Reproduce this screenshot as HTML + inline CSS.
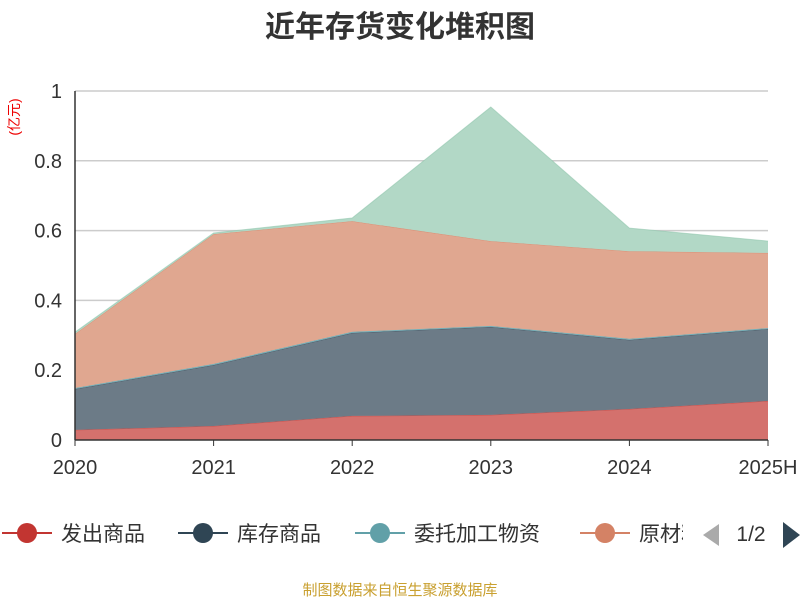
<!DOCTYPE html>
<html><head><meta charset="utf-8"><style>
body{margin:0;background:#fff;}
svg{display:block;font-family:"Liberation Sans","Noto Sans CJK SC",sans-serif;}
</style></head><body>
<svg id="chart" width="800" height="600" viewBox="0 0 800 600">
<text x="400" y="37" text-anchor="middle" font-size="30" font-weight="bold" fill="#333">近年存货变化堆积图</text>
<text transform="translate(19,117) rotate(-90)" text-anchor="middle" font-size="14" fill="#e00">(亿元)</text>
<g id="grid"></g><g id="areas"></g><g id="axes"></g>
<g id="legend"></g>
<text x="400" y="595" text-anchor="middle" font-size="15" fill="#c9a030">制图数据来自恒生聚源数据库</text>
</svg>
<script>
const categories=["2020","2021","2022","2023","2024","2025H"];
const yTicks=[0,0.2,0.4,0.6,0.8,1];
const yTickLabels=["0","0.2","0.4","0.6","0.8","1"];
const seriesNames=["发出商品","库存商品","委托加工物资","原材料","在产品"];
const s1=[0.029,0.040,0.069,0.072,0.089,0.112];
const s2=[0.117,0.175,0.238,0.252,0.198,0.206];
const s3=[0.003,0.003,0.003,0.003,0.003,0.003];
const s4=[0.155,0.372,0.317,0.243,0.251,0.215];
const s5=[0.005,0.003,0.009,0.384,0.066,0.034];
const series=[s1,s2,s3,s4,s5];
const fills=["#d4716d","#6c7b87","#7fb5bd","#e0a790","#b2d8c6"];
const strokes=["#c23531","#2f4554","#61a0a8","#d48265","#91c7ae"];
const X0=75,X1=768,Y0=440,Y1=91;
const x=i=>X0+i*(X1-X0)/(categories.length-1);
const y=v=>Y0-v*(Y0-Y1);
const NS="http://www.w3.org/2000/svg";
function mk(t,a,p){const e=document.createElementNS(NS,t);for(const k in a)e.setAttribute(k,a[k]);p.appendChild(e);return e;}
const grid=document.getElementById('grid'),areas=document.getElementById('areas'),axes=document.getElementById('axes');
yTicks.forEach((v,i)=>{
 if(v>0){const g=mk('line',{x1:X0,x2:X1,y1:y(v),y2:y(v),stroke:'#ccc','stroke-width':1.5},grid);
 
 }
 const t=mk('text',{x:62,y:y(v)+7,'text-anchor':'end','font-size':20,fill:'#333'},axes);t.textContent=yTickLabels[i];
 
 
});
let base=categories.map(()=>0);
series.forEach((s,si)=>{
 const top=s.map((v,i)=>base[i]+v);
 let d=top.map((v,i)=>(i?'L':'M')+x(i)+','+y(v)).join('');
 for(let i=categories.length-1;i>=0;i--)d+='L'+x(i)+','+y(base[i]);
 const a=mk('path',{d:d+'Z',fill:fills[si]},areas);
 
 
 const l=mk('path',{d:top.map((v,i)=>(i?'L':'M')+x(i)+','+y(v)).join(''),fill:'none',stroke:strokes[si],'stroke-width':1,'stroke-opacity':0.6},areas);
 
 
 base=top;
});
const ya=mk('line',{x1:X0,x2:X0,y1:Y1,y2:Y0,stroke:'#333','stroke-width':1.5},axes);


const xa=mk('line',{x1:X0,x2:X1,y1:Y0,y2:Y0,stroke:'#333','stroke-width':1.5},axes);


categories.forEach((c,i)=>{
 const tk=mk('line',{x1:x(i),x2:x(i),y1:Y0,y2:Y0+6,stroke:'#333'},axes);
 
 
 const t=mk('text',{x:x(i),y:474,'text-anchor':'middle','font-size':20,fill:'#333'},axes);t.textContent=c;
 
 
});
const lg=document.getElementById('legend');
const lx=[27,203,380,605];
for(let i=0;i<4;i++){
 const g=mk('g',{},lg);
 
 
 mk('line',{x1:lx[i]-25,x2:lx[i]+25,y1:533,y2:533,stroke:strokes[i],'stroke-width':2},g);
 mk('circle',{cx:lx[i],cy:533,r:10,fill:strokes[i]},g);
 const t=mk('text',{x:lx[i]+34,y:541,'font-size':21,fill:'#333'},g);t.textContent=seriesNames[i];
}
const cp=mk('clipPath',{id:'lc'},lg);mk('rect',{x:0,y:500,width:683,height:60},cp);
lg.lastChild&&0;
lg.querySelectorAll('g')[3].setAttribute('clip-path','url(#lc)');
const pl=mk('path',{d:'M719,524L703,535L719,546Z',fill:'#aaa'},lg);


const pt=mk('text',{x:751,y:541,'text-anchor':'middle','font-size':21,fill:'#333'},lg);pt.textContent='1/2';


const pr=mk('path',{d:'M783,522L800,535L783,548Z',fill:'#2f4554'},lg);


</script>
</body></html>
